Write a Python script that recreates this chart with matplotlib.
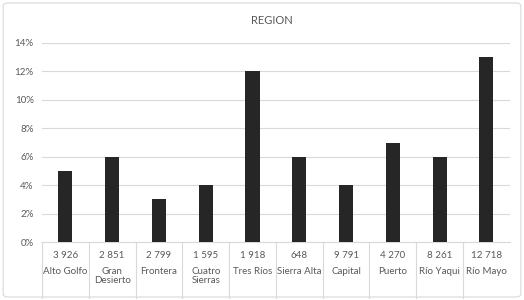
import matplotlib
matplotlib.use("Agg")
import matplotlib.pyplot as plt
import matplotlib.transforms as mtrans
from matplotlib.patches import FancyBboxPatch
from matplotlib.ticker import FuncFormatter

regions = ["Alto Golfo", "Gran\nDesierto", "Frontera", "Cuatro\nSierras", "Tres Ríos",
           "Sierra Alta", "Capital", "Puerto", "Río Yaqui", "Río Mayo"]
counts = ["3 926", "2 851", "2 799", "1 595", "1 918", "648", "9 791", "4 270", "8 261", "12 718"]
shares = [0.05, 0.06, 0.03, 0.04, 0.12, 0.06, 0.04, 0.07, 0.06, 0.13]
yticks = [0, 0.02, 0.04, 0.06, 0.08, 0.10, 0.12, 0.14]

plt.rcParams['font.family'] = ['Lato', 'DejaVu Sans']
txt = '#595959'
grid = '#d9d9d9'

fig = plt.figure(figsize=(5.24, 3.0), dpi=100)
fig.patch.set_facecolor('white')
fig.patches.append(FancyBboxPatch((0.006, 0.01), 0.988, 0.98, boxstyle="round,pad=0,rounding_size=0.01",
                                  transform=fig.transFigure, facecolor='none', edgecolor=grid, lw=0.8))

ax = fig.add_axes([0.080, 0.193, 0.893, 0.664])
x = list(range(len(regions)))
ax.bar(x, shares, width=0.3, color='#262626', zorder=3)
ax.set_xlim(-0.5, len(regions) - 0.5)
ax.set_ylim(0, 0.14)
ax.set_yticks(yticks)
ax.yaxis.set_major_formatter(FuncFormatter(lambda v, p: f"{v*100:.0f}%"))
ax.tick_params(axis='y', length=0, labelsize=7, labelcolor=txt, pad=6)
ax.set_xticks([])
ax.grid(axis='y', color=grid, lw=0.8, zorder=0)
for s in ['top', 'right', 'left']:
    ax.spines[s].set_visible(False)
ax.spines['bottom'].set_color(grid)
ax.spines['bottom'].set_linewidth(0.8)

trans = mtrans.blended_transform_factory(ax.transData, ax.transAxes)
for i, (r, c) in enumerate(zip(regions, counts)):
    ax.text(i, -0.065, c, transform=trans, ha='center', va='center', fontsize=7, color=txt)
    ax.text(i, -0.125, r, transform=trans, ha='center', va='top', fontsize=7, color=txt,
            linespacing=1.05)
for i in range(len(regions)):
    ax.plot([i - 0.5, i - 0.5], [0, -0.28], transform=trans, color=grid, lw=0.8, clip_on=False)

fig.text(0.519, 0.932, "REGION", ha='center', va='center', fontsize=8, color=txt)

fig.savefig("out.png", dpi=100)
